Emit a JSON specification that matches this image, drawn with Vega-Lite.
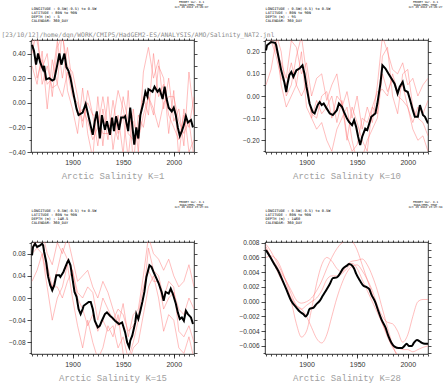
{
"$schema":"https://vega.github.io/schema/vega-lite/v6.json",
"padding":0,
"bounds":"flush",
"columns":2,
"spacing":{"row":90,"column":71},
"config":{"view":{"stroke":"#000","strokeWidth":0.8},"font":"Liberation Sans","axis":{"grid":false,"domain":false,"tickColor":"#000","tickWidth":0.7,"labelFont":"Liberation Sans","labelColor":"#333","titleFont":"DejaVu Sans Mono","titleFontWeight":"normal","titleColor":"#000"}},
"datasets":{"d":[
{"p":1,"m":"k","t":1860,"v":0.47},{"p":1,"m":"k","t":1862,"v":0.42},{"p":1,"m":"k","t":1864,"v":0.31},{"p":1,"m":"k","t":1866,"v":0.40},{"p":1,"m":"k","t":1868,"v":0.33},{"p":1,"m":"k","t":1871,"v":0.27},{"p":1,"m":"k","t":1872,"v":0.30},{"p":1,"m":"k","t":1874,"v":0.19},{"p":1,"m":"k","t":1877,"v":0.20},{"p":1,"m":"k","t":1880,"v":0.18},{"p":1,"m":"k","t":1882,"v":0.19},{"p":1,"m":"k","t":1885,"v":0.31},{"p":1,"m":"k","t":1887,"v":0.40},{"p":1,"m":"k","t":1889,"v":0.31},{"p":1,"m":"k","t":1892,"v":0.40},{"p":1,"m":"k","t":1894,"v":0.29},{"p":1,"m":"k","t":1896,"v":0.26},{"p":1,"m":"k","t":1898,"v":0.20},{"p":1,"m":"k","t":1901,"v":0.07},{"p":1,"m":"k","t":1904,"v":-0.05},{"p":1,"m":"k","t":1906,"v":-0.10},{"p":1,"m":"k","t":1910,"v":-0.08},{"p":1,"m":"k","t":1913,"v":-0.01},{"p":1,"m":"k","t":1915,"v":-0.08},{"p":1,"m":"k","t":1918,"v":-0.19},{"p":1,"m":"k","t":1920,"v":-0.26},{"p":1,"m":"k","t":1922,"v":-0.15},{"p":1,"m":"k","t":1924,"v":-0.07},{"p":1,"m":"k","t":1927,"v":-0.29},{"p":1,"m":"k","t":1929,"v":-0.10},{"p":1,"m":"k","t":1932,"v":-0.22},{"p":1,"m":"k","t":1934,"v":-0.15},{"p":1,"m":"k","t":1937,"v":-0.26},{"p":1,"m":"k","t":1939,"v":-0.12},{"p":1,"m":"k","t":1941,"v":-0.23},{"p":1,"m":"k","t":1943,"v":-0.11},{"p":1,"m":"k","t":1946,"v":-0.22},{"p":1,"m":"k","t":1948,"v":-0.12},{"p":1,"m":"k","t":1951,"v":-0.12},{"p":1,"m":"k","t":1952,"v":-0.11},{"p":1,"m":"k","t":1955,"v":-0.23},{"p":1,"m":"k","t":1957,"v":-0.04},{"p":1,"m":"k","t":1959,"v":-0.18},{"p":1,"m":"k","t":1961,"v":-0.34},{"p":1,"m":"k","t":1963,"v":-0.20},{"p":1,"m":"k","t":1965,"v":-0.29},{"p":1,"m":"k","t":1967,"v":-0.10},{"p":1,"m":"k","t":1970,"v":0.00},{"p":1,"m":"k","t":1972,"v":0.09},{"p":1,"m":"k","t":1974,"v":0.05},{"p":1,"m":"k","t":1975,"v":0.11},{"p":1,"m":"k","t":1979,"v":0.09},{"p":1,"m":"k","t":1981,"v":0.13},{"p":1,"m":"k","t":1984,"v":0.09},{"p":1,"m":"k","t":1986,"v":0.11},{"p":1,"m":"k","t":1989,"v":0.03},{"p":1,"m":"k","t":1991,"v":0.13},{"p":1,"m":"k","t":1993,"v":0.03},{"p":1,"m":"k","t":1995,"v":-0.04},{"p":1,"m":"k","t":1998,"v":-0.07},{"p":1,"m":"k","t":2000,"v":-0.04},{"p":1,"m":"k","t":2002,"v":-0.10},{"p":1,"m":"k","t":2004,"v":-0.20},{"p":1,"m":"k","t":2006,"v":-0.27},{"p":1,"m":"k","t":2008,"v":-0.23},{"p":1,"m":"k","t":2010,"v":-0.18},{"p":1,"m":"k","t":2012,"v":-0.11},{"p":1,"m":"k","t":2014,"v":-0.16},{"p":1,"m":"k","t":2017,"v":-0.14},{"p":1,"m":"k","t":2019,"v":-0.20},
{"p":1,"m":"a","t":1860,"v":0.62},{"p":1,"m":"a","t":1865,"v":0.50},{"p":1,"m":"a","t":1870,"v":0.28},{"p":1,"m":"a","t":1875,"v":0.40},{"p":1,"m":"a","t":1880,"v":0.05},{"p":1,"m":"a","t":1885,"v":0.45},{"p":1,"m":"a","t":1890,"v":0.55},{"p":1,"m":"a","t":1895,"v":0.30},{"p":1,"m":"a","t":1900,"v":0.25},{"p":1,"m":"a","t":1905,"v":0.05},{"p":1,"m":"a","t":1910,"v":-0.20},{"p":1,"m":"a","t":1915,"v":0.10},{"p":1,"m":"a","t":1920,"v":-0.10},{"p":1,"m":"a","t":1925,"v":-0.35},{"p":1,"m":"a","t":1930,"v":-0.05},{"p":1,"m":"a","t":1935,"v":-0.30},{"p":1,"m":"a","t":1940,"v":0.02},{"p":1,"m":"a","t":1945,"v":-0.25},{"p":1,"m":"a","t":1950,"v":-0.10},{"p":1,"m":"a","t":1955,"v":-0.45},{"p":1,"m":"a","t":1960,"v":-0.05},{"p":1,"m":"a","t":1965,"v":-0.40},{"p":1,"m":"a","t":1970,"v":0.25},{"p":1,"m":"a","t":1975,"v":0.45},{"p":1,"m":"a","t":1980,"v":0.20},{"p":1,"m":"a","t":1985,"v":0.35},{"p":1,"m":"a","t":1990,"v":-0.05},{"p":1,"m":"a","t":1995,"v":0.20},{"p":1,"m":"a","t":2000,"v":-0.15},{"p":1,"m":"a","t":2005,"v":-0.05},{"p":1,"m":"a","t":2010,"v":-0.35},{"p":1,"m":"a","t":2015,"v":0.25},{"p":1,"m":"a","t":2020,"v":-0.10},
{"p":1,"m":"b","t":1860,"v":0.30},{"p":1,"m":"b","t":1865,"v":0.15},{"p":1,"m":"b","t":1870,"v":0.42},{"p":1,"m":"b","t":1875,"v":-0.05},{"p":1,"m":"b","t":1880,"v":0.35},{"p":1,"m":"b","t":1885,"v":0.15},{"p":1,"m":"b","t":1890,"v":0.60},{"p":1,"m":"b","t":1895,"v":0.10},{"p":1,"m":"b","t":1900,"v":-0.05},{"p":1,"m":"b","t":1905,"v":-0.25},{"p":1,"m":"b","t":1910,"v":0.12},{"p":1,"m":"b","t":1915,"v":-0.25},{"p":1,"m":"b","t":1920,"v":-0.45},{"p":1,"m":"b","t":1925,"v":0.05},{"p":1,"m":"b","t":1930,"v":-0.35},{"p":1,"m":"b","t":1935,"v":0.05},{"p":1,"m":"b","t":1940,"v":-0.38},{"p":1,"m":"b","t":1945,"v":-0.10},{"p":1,"m":"b","t":1950,"v":-0.42},{"p":1,"m":"b","t":1955,"v":0.10},{"p":1,"m":"b","t":1960,"v":-0.50},{"p":1,"m":"b","t":1965,"v":-0.10},{"p":1,"m":"b","t":1970,"v":-0.20},{"p":1,"m":"b","t":1975,"v":0.05},{"p":1,"m":"b","t":1980,"v":-0.10},{"p":1,"m":"b","t":1985,"v":0.30},{"p":1,"m":"b","t":1990,"v":0.20},{"p":1,"m":"b","t":1995,"v":-0.25},{"p":1,"m":"b","t":2000,"v":0.10},{"p":1,"m":"b","t":2005,"v":-0.45},{"p":1,"m":"b","t":2010,"v":-0.05},{"p":1,"m":"b","t":2015,"v":-0.40},{"p":1,"m":"b","t":2020,"v":-0.30},
{"p":1,"m":"c","t":1860,"v":0.55},{"p":1,"m":"c","t":1865,"v":0.20},{"p":1,"m":"c","t":1870,"v":0.35},{"p":1,"m":"c","t":1875,"v":0.15},{"p":1,"m":"c","t":1880,"v":0.20},{"p":1,"m":"c","t":1885,"v":0.50},{"p":1,"m":"c","t":1890,"v":0.20},{"p":1,"m":"c","t":1895,"v":0.45},{"p":1,"m":"c","t":1900,"v":0.15},{"p":1,"m":"c","t":1905,"v":-0.10},{"p":1,"m":"c","t":1910,"v":-0.05},{"p":1,"m":"c","t":1915,"v":-0.15},{"p":1,"m":"c","t":1920,"v":-0.30},{"p":1,"m":"c","t":1925,"v":-0.20},{"p":1,"m":"c","t":1930,"v":0.05},{"p":1,"m":"c","t":1935,"v":-0.20},{"p":1,"m":"c","t":1940,"v":-0.15},{"p":1,"m":"c","t":1945,"v":0.10},{"p":1,"m":"c","t":1950,"v":-0.05},{"p":1,"m":"c","t":1955,"v":-0.25},{"p":1,"m":"c","t":1960,"v":-0.30},{"p":1,"m":"c","t":1965,"v":-0.20},{"p":1,"m":"c","t":1970,"v":0.05},{"p":1,"m":"c","t":1975,"v":-0.10},{"p":1,"m":"c","t":1980,"v":0.40},{"p":1,"m":"c","t":1985,"v":0.05},{"p":1,"m":"c","t":1990,"v":0.15},{"p":1,"m":"c","t":1995,"v":-0.10},{"p":1,"m":"c","t":2000,"v":-0.20},{"p":1,"m":"c","t":2005,"v":-0.30},{"p":1,"m":"c","t":2010,"v":-0.10},{"p":1,"m":"c","t":2015,"v":-0.20},{"p":1,"m":"c","t":2020,"v":0.05},
{"p":1,"m":"d","t":1860,"v":0.40},{"p":1,"m":"d","t":1865,"v":0.60},{"p":1,"m":"d","t":1870,"v":0.15},{"p":1,"m":"d","t":1875,"v":0.30},{"p":1,"m":"d","t":1880,"v":0.12},{"p":1,"m":"d","t":1885,"v":0.15},{"p":1,"m":"d","t":1890,"v":0.05},{"p":1,"m":"d","t":1895,"v":0.25},{"p":1,"m":"d","t":1900,"v":0.05},{"p":1,"m":"d","t":1905,"v":0.00},{"p":1,"m":"d","t":1910,"v":-0.15},{"p":1,"m":"d","t":1915,"v":0.00},{"p":1,"m":"d","t":1920,"v":-0.10},{"p":1,"m":"d","t":1925,"v":-0.10},{"p":1,"m":"d","t":1930,"v":-0.25},{"p":1,"m":"d","t":1935,"v":-0.25},{"p":1,"m":"d","t":1940,"v":-0.15},{"p":1,"m":"d","t":1945,"v":-0.30},{"p":1,"m":"d","t":1950,"v":0.05},{"p":1,"m":"d","t":1955,"v":-0.15},{"p":1,"m":"d","t":1960,"v":-0.15},{"p":1,"m":"d","t":1965,"v":-0.30},{"p":1,"m":"d","t":1970,"v":-0.10},{"p":1,"m":"d","t":1975,"v":0.05},{"p":1,"m":"d","t":1980,"v":-0.05},{"p":1,"m":"d","t":1985,"v":-0.20},{"p":1,"m":"d","t":1990,"v":0.00},{"p":1,"m":"d","t":1995,"v":0.05},{"p":1,"m":"d","t":2000,"v":0.05},{"p":1,"m":"d","t":2005,"v":-0.15},{"p":1,"m":"d","t":2010,"v":-0.25},{"p":1,"m":"d","t":2015,"v":-0.15},{"p":1,"m":"d","t":2020,"v":-0.45},
{"p":2,"m":"k","t":1860,"v":0.206},{"p":2,"m":"k","t":1861,"v":0.229},{"p":2,"m":"k","t":1865,"v":0.244},{"p":2,"m":"k","t":1869,"v":0.24},{"p":2,"m":"k","t":1870,"v":0.23},{"p":2,"m":"k","t":1872,"v":0.184},{"p":2,"m":"k","t":1875,"v":0.116},{"p":2,"m":"k","t":1878,"v":0.064},{"p":2,"m":"k","t":1880,"v":0.018},{"p":2,"m":"k","t":1881,"v":0.049},{"p":2,"m":"k","t":1883,"v":0.094},{"p":2,"m":"k","t":1885,"v":0.109},{"p":2,"m":"k","t":1887,"v":0.086},{"p":2,"m":"k","t":1890,"v":0.116},{"p":2,"m":"k","t":1893,"v":0.124},{"p":2,"m":"k","t":1896,"v":0.139},{"p":2,"m":"k","t":1898,"v":0.101},{"p":2,"m":"k","t":1900,"v":0.041},{"p":2,"m":"k","t":1903,"v":-0.034},{"p":2,"m":"k","t":1906,"v":-0.072},{"p":2,"m":"k","t":1908,"v":-0.079},{"p":2,"m":"k","t":1911,"v":-0.041},{"p":2,"m":"k","t":1913,"v":-0.027},{"p":2,"m":"k","t":1915,"v":-0.041},{"p":2,"m":"k","t":1917,"v":-0.034},{"p":2,"m":"k","t":1920,"v":-0.057},{"p":2,"m":"k","t":1923,"v":-0.079},{"p":2,"m":"k","t":1926,"v":-0.086},{"p":2,"m":"k","t":1930,"v":-0.064},{"p":2,"m":"k","t":1932,"v":-0.034},{"p":2,"m":"k","t":1935,"v":-0.049},{"p":2,"m":"k","t":1937,"v":-0.072},{"p":2,"m":"k","t":1940,"v":-0.102},{"p":2,"m":"k","t":1942,"v":-0.117},{"p":2,"m":"k","t":1945,"v":-0.132},{"p":2,"m":"k","t":1947,"v":-0.109},{"p":2,"m":"k","t":1949,"v":-0.139},{"p":2,"m":"k","t":1951,"v":-0.184},{"p":2,"m":"k","t":1953,"v":-0.222},{"p":2,"m":"k","t":1955,"v":-0.184},{"p":2,"m":"k","t":1958,"v":-0.147},{"p":2,"m":"k","t":1960,"v":-0.154},{"p":2,"m":"k","t":1962,"v":-0.124},{"p":2,"m":"k","t":1964,"v":-0.094},{"p":2,"m":"k","t":1968,"v":-0.079},{"p":2,"m":"k","t":1970,"v":-0.034},{"p":2,"m":"k","t":1973,"v":0.056},{"p":2,"m":"k","t":1975,"v":0.139},{"p":2,"m":"k","t":1978,"v":0.124},{"p":2,"m":"k","t":1981,"v":0.101},{"p":2,"m":"k","t":1984,"v":0.078},{"p":2,"m":"k","t":1987,"v":0.056},{"p":2,"m":"k","t":1990,"v":0.011},{"p":2,"m":"k","t":1992,"v":0.041},{"p":2,"m":"k","t":1995,"v":0.064},{"p":2,"m":"k","t":1997,"v":0.026},{"p":2,"m":"k","t":2000,"v":0.018},{"p":2,"m":"k","t":2002,"v":-0.012},{"p":2,"m":"k","t":2005,"v":-0.064},{"p":2,"m":"k","t":2007,"v":-0.094},{"p":2,"m":"k","t":2010,"v":-0.094},{"p":2,"m":"k","t":2012,"v":-0.041},{"p":2,"m":"k","t":2015,"v":-0.086},{"p":2,"m":"k","t":2017,"v":-0.094},{"p":2,"m":"k","t":2020,"v":-0.124},
{"p":2,"m":"a","t":1860,"v":0.30},{"p":2,"m":"a","t":1865,"v":0.28},{"p":2,"m":"a","t":1870,"v":0.20},{"p":2,"m":"a","t":1875,"v":0.15},{"p":2,"m":"a","t":1880,"v":0.08},{"p":2,"m":"a","t":1885,"v":0.25},{"p":2,"m":"a","t":1890,"v":0.22},{"p":2,"m":"a","t":1895,"v":0.10},{"p":2,"m":"a","t":1900,"v":0.15},{"p":2,"m":"a","t":1905,"v":0.00},{"p":2,"m":"a","t":1910,"v":0.08},{"p":2,"m":"a","t":1915,"v":0.10},{"p":2,"m":"a","t":1920,"v":-0.02},{"p":2,"m":"a","t":1925,"v":0.05},{"p":2,"m":"a","t":1930,"v":0.10},{"p":2,"m":"a","t":1935,"v":-0.05},{"p":2,"m":"a","t":1940,"v":0.02},{"p":2,"m":"a","t":1945,"v":-0.10},{"p":2,"m":"a","t":1950,"v":0.00},{"p":2,"m":"a","t":1955,"v":-0.15},{"p":2,"m":"a","t":1960,"v":-0.05},{"p":2,"m":"a","t":1965,"v":-0.12},{"p":2,"m":"a","t":1970,"v":0.05},{"p":2,"m":"a","t":1975,"v":0.27},{"p":2,"m":"a","t":1980,"v":0.20},{"p":2,"m":"a","t":1985,"v":0.12},{"p":2,"m":"a","t":1990,"v":0.10},{"p":2,"m":"a","t":1995,"v":0.15},{"p":2,"m":"a","t":2000,"v":0.05},{"p":2,"m":"a","t":2005,"v":0.08},{"p":2,"m":"a","t":2010,"v":0.00},{"p":2,"m":"a","t":2015,"v":0.05},{"p":2,"m":"a","t":2020,"v":0.08},
{"p":2,"m":"b","t":1860,"v":0.05},{"p":2,"m":"b","t":1865,"v":0.12},{"p":2,"m":"b","t":1870,"v":0.25},{"p":2,"m":"b","t":1875,"v":0.05},{"p":2,"m":"b","t":1880,"v":-0.05},{"p":2,"m":"b","t":1885,"v":0.00},{"p":2,"m":"b","t":1890,"v":0.05},{"p":2,"m":"b","t":1895,"v":0.20},{"p":2,"m":"b","t":1900,"v":-0.05},{"p":2,"m":"b","t":1905,"v":-0.10},{"p":2,"m":"b","t":1910,"v":-0.15},{"p":2,"m":"b","t":1915,"v":-0.12},{"p":2,"m":"b","t":1920,"v":-0.20},{"p":2,"m":"b","t":1925,"v":-0.25},{"p":2,"m":"b","t":1930,"v":-0.15},{"p":2,"m":"b","t":1935,"v":-0.10},{"p":2,"m":"b","t":1940,"v":-0.05},{"p":2,"m":"b","t":1945,"v":-0.20},{"p":2,"m":"b","t":1950,"v":-0.30},{"p":2,"m":"b","t":1955,"v":-0.28},{"p":2,"m":"b","t":1960,"v":-0.20},{"p":2,"m":"b","t":1965,"v":-0.15},{"p":2,"m":"b","t":1970,"v":-0.10},{"p":2,"m":"b","t":1975,"v":0.10},{"p":2,"m":"b","t":1980,"v":0.02},{"p":2,"m":"b","t":1985,"v":0.08},{"p":2,"m":"b","t":1990,"v":0.00},{"p":2,"m":"b","t":1995,"v":-0.02},{"p":2,"m":"b","t":2000,"v":-0.05},{"p":2,"m":"b","t":2005,"v":-0.15},{"p":2,"m":"b","t":2010,"v":-0.20},{"p":2,"m":"b","t":2015,"v":-0.18},{"p":2,"m":"b","t":2020,"v":-0.25},
{"p":2,"m":"c","t":1860,"v":0.25},{"p":2,"m":"c","t":1865,"v":0.30},{"p":2,"m":"c","t":1870,"v":0.28},{"p":2,"m":"c","t":1875,"v":0.20},{"p":2,"m":"c","t":1880,"v":0.00},{"p":2,"m":"c","t":1885,"v":0.05},{"p":2,"m":"c","t":1890,"v":0.18},{"p":2,"m":"c","t":1895,"v":0.27},{"p":2,"m":"c","t":1900,"v":0.10},{"p":2,"m":"c","t":1905,"v":-0.10},{"p":2,"m":"c","t":1910,"v":-0.02},{"p":2,"m":"c","t":1915,"v":-0.08},{"p":2,"m":"c","t":1920,"v":-0.05},{"p":2,"m":"c","t":1925,"v":0.00},{"p":2,"m":"c","t":1930,"v":-0.12},{"p":2,"m":"c","t":1935,"v":-0.02},{"p":2,"m":"c","t":1940,"v":-0.18},{"p":2,"m":"c","t":1945,"v":-0.25},{"p":2,"m":"c","t":1950,"v":-0.22},{"p":2,"m":"c","t":1955,"v":-0.10},{"p":2,"m":"c","t":1960,"v":-0.12},{"p":2,"m":"c","t":1965,"v":-0.05},{"p":2,"m":"c","t":1970,"v":-0.08},{"p":2,"m":"c","t":1975,"v":0.18},{"p":2,"m":"c","t":1980,"v":0.22},{"p":2,"m":"c","t":1985,"v":0.00},{"p":2,"m":"c","t":1990,"v":-0.08},{"p":2,"m":"c","t":1995,"v":0.10},{"p":2,"m":"c","t":2000,"v":0.12},{"p":2,"m":"c","t":2005,"v":-0.05},{"p":2,"m":"c","t":2010,"v":-0.10},{"p":2,"m":"c","t":2015,"v":-0.12},{"p":2,"m":"c","t":2020,"v":-0.18},
{"p":2,"m":"d","t":1860,"v":0.22},{"p":2,"m":"d","t":1865,"v":0.25},{"p":2,"m":"d","t":1870,"v":0.18},{"p":2,"m":"d","t":1875,"v":0.08},{"p":2,"m":"d","t":1880,"v":0.05},{"p":2,"m":"d","t":1885,"v":0.15},{"p":2,"m":"d","t":1890,"v":0.05},{"p":2,"m":"d","t":1895,"v":0.00},{"p":2,"m":"d","t":1900,"v":0.05},{"p":2,"m":"d","t":1905,"v":-0.08},{"p":2,"m":"d","t":1910,"v":-0.10},{"p":2,"m":"d","t":1915,"v":0.00},{"p":2,"m":"d","t":1920,"v":0.02},{"p":2,"m":"d","t":1925,"v":-0.10},{"p":2,"m":"d","t":1930,"v":0.00},{"p":2,"m":"d","t":1935,"v":-0.03},{"p":2,"m":"d","t":1940,"v":-0.20},{"p":2,"m":"d","t":1945,"v":-0.05},{"p":2,"m":"d","t":1950,"v":-0.12},{"p":2,"m":"d","t":1955,"v":-0.20},{"p":2,"m":"d","t":1960,"v":-0.25},{"p":2,"m":"d","t":1965,"v":-0.05},{"p":2,"m":"d","t":1970,"v":0.02},{"p":2,"m":"d","t":1975,"v":0.03},{"p":2,"m":"d","t":1980,"v":0.00},{"p":2,"m":"d","t":1985,"v":0.10},{"p":2,"m":"d","t":1990,"v":0.02},{"p":2,"m":"d","t":1995,"v":0.05},{"p":2,"m":"d","t":2000,"v":-0.05},{"p":2,"m":"d","t":2005,"v":-0.12},{"p":2,"m":"d","t":2010,"v":-0.05},{"p":2,"m":"d","t":2015,"v":-0.08},{"p":2,"m":"d","t":2020,"v":-0.02},
{"p":3,"m":"k","t":1860,"v":0.077},{"p":3,"m":"k","t":1861,"v":0.092},{"p":3,"m":"k","t":1863,"v":0.098},{"p":3,"m":"k","t":1865,"v":0.092},{"p":3,"m":"k","t":1868,"v":0.095},{"p":3,"m":"k","t":1870,"v":0.098},{"p":3,"m":"k","t":1871,"v":0.095},{"p":3,"m":"k","t":1872,"v":0.083},{"p":3,"m":"k","t":1874,"v":0.065},{"p":3,"m":"k","t":1876,"v":0.038},{"p":3,"m":"k","t":1878,"v":0.023},{"p":3,"m":"k","t":1880,"v":0.014},{"p":3,"m":"k","t":1882,"v":0.023},{"p":3,"m":"k","t":1884,"v":0.041},{"p":3,"m":"k","t":1887,"v":0.041},{"p":3,"m":"k","t":1888,"v":0.038},{"p":3,"m":"k","t":1891,"v":0.047},{"p":3,"m":"k","t":1893,"v":0.056},{"p":3,"m":"k","t":1895,"v":0.065},{"p":3,"m":"k","t":1896,"v":0.068},{"p":3,"m":"k","t":1898,"v":0.059},{"p":3,"m":"k","t":1900,"v":0.035},{"p":3,"m":"k","t":1902,"v":0.011},{"p":3,"m":"k","t":1904,"v":0.002},{"p":3,"m":"k","t":1906,"v":-0.020},{"p":3,"m":"k","t":1908,"v":-0.029},{"p":3,"m":"k","t":1910,"v":-0.020},{"p":3,"m":"k","t":1911,"v":-0.014},{"p":3,"m":"k","t":1914,"v":-0.010},{"p":3,"m":"k","t":1916,"v":-0.007},{"p":3,"m":"k","t":1918,"v":-0.007},{"p":3,"m":"k","t":1920,"v":-0.020},{"p":3,"m":"k","t":1922,"v":-0.041},{"p":3,"m":"k","t":1925,"v":-0.053},{"p":3,"m":"k","t":1927,"v":-0.050},{"p":3,"m":"k","t":1929,"v":-0.041},{"p":3,"m":"k","t":1932,"v":-0.029},{"p":3,"m":"k","t":1934,"v":-0.026},{"p":3,"m":"k","t":1937,"v":-0.032},{"p":3,"m":"k","t":1939,"v":-0.035},{"p":3,"m":"k","t":1942,"v":-0.041},{"p":3,"m":"k","t":1944,"v":-0.044},{"p":3,"m":"k","t":1946,"v":-0.047},{"p":3,"m":"k","t":1949,"v":-0.044},{"p":3,"m":"k","t":1952,"v":-0.062},{"p":3,"m":"k","t":1954,"v":-0.080},{"p":3,"m":"k","t":1956,"v":-0.089},{"p":3,"m":"k","t":1957,"v":-0.077},{"p":3,"m":"k","t":1959,"v":-0.068},{"p":3,"m":"k","t":1962,"v":-0.044},{"p":3,"m":"k","t":1963,"v":-0.029},{"p":3,"m":"k","t":1965,"v":-0.038},{"p":3,"m":"k","t":1967,"v":-0.023},{"p":3,"m":"k","t":1969,"v":-0.007},{"p":3,"m":"k","t":1971,"v":0.011},{"p":3,"m":"k","t":1973,"v":0.038},{"p":3,"m":"k","t":1976,"v":0.059},{"p":3,"m":"k","t":1978,"v":0.056},{"p":3,"m":"k","t":1980,"v":0.047},{"p":3,"m":"k","t":1983,"v":0.035},{"p":3,"m":"k","t":1985,"v":0.027},{"p":3,"m":"k","t":1988,"v":0.011},{"p":3,"m":"k","t":1990,"v":-0.005},{"p":3,"m":"k","t":1992,"v":0.011},{"p":3,"m":"k","t":1995,"v":0.008},{"p":3,"m":"k","t":1997,"v":0.017},{"p":3,"m":"k","t":1999,"v":0.008},{"p":3,"m":"k","t":2002,"v":-0.010},{"p":3,"m":"k","t":2004,"v":-0.026},{"p":3,"m":"k","t":2006,"v":-0.038},{"p":3,"m":"k","t":2008,"v":-0.035},{"p":3,"m":"k","t":2010,"v":-0.041},{"p":3,"m":"k","t":2012,"v":-0.023},{"p":3,"m":"k","t":2014,"v":-0.029},{"p":3,"m":"k","t":2017,"v":-0.035},{"p":3,"m":"k","t":2019,"v":-0.047},
{"p":3,"m":"a","t":1860,"v":0.11},{"p":3,"m":"a","t":1865,"v":0.10},{"p":3,"m":"a","t":1870,"v":0.12},{"p":3,"m":"a","t":1875,"v":0.08},{"p":3,"m":"a","t":1880,"v":0.06},{"p":3,"m":"a","t":1885,"v":0.10},{"p":3,"m":"a","t":1890,"v":0.08},{"p":3,"m":"a","t":1895,"v":0.11},{"p":3,"m":"a","t":1900,"v":0.07},{"p":3,"m":"a","t":1905,"v":0.03},{"p":3,"m":"a","t":1910,"v":0.04},{"p":3,"m":"a","t":1915,"v":0.05},{"p":3,"m":"a","t":1920,"v":0.02},{"p":3,"m":"a","t":1925,"v":0.00},{"p":3,"m":"a","t":1930,"v":0.03},{"p":3,"m":"a","t":1935,"v":0.01},{"p":3,"m":"a","t":1940,"v":-0.02},{"p":3,"m":"a","t":1945,"v":-0.05},{"p":3,"m":"a","t":1950,"v":-0.01},{"p":3,"m":"a","t":1955,"v":-0.07},{"p":3,"m":"a","t":1960,"v":-0.03},{"p":3,"m":"a","t":1965,"v":-0.02},{"p":3,"m":"a","t":1970,"v":0.04},{"p":3,"m":"a","t":1975,"v":0.11},{"p":3,"m":"a","t":1980,"v":0.08},{"p":3,"m":"a","t":1985,"v":0.07},{"p":3,"m":"a","t":1990,"v":0.05},{"p":3,"m":"a","t":1995,"v":0.07},{"p":3,"m":"a","t":2000,"v":0.04},{"p":3,"m":"a","t":2005,"v":0.02},{"p":3,"m":"a","t":2010,"v":0.03},{"p":3,"m":"a","t":2015,"v":0.06},{"p":3,"m":"a","t":2020,"v":0.02},
{"p":3,"m":"b","t":1860,"v":0.03},{"p":3,"m":"b","t":1865,"v":0.05},{"p":3,"m":"b","t":1870,"v":0.08},{"p":3,"m":"b","t":1875,"v":0.02},{"p":3,"m":"b","t":1880,"v":-0.04},{"p":3,"m":"b","t":1885,"v":0.00},{"p":3,"m":"b","t":1890,"v":0.02},{"p":3,"m":"b","t":1895,"v":0.06},{"p":3,"m":"b","t":1900,"v":0.00},{"p":3,"m":"b","t":1905,"v":-0.05},{"p":3,"m":"b","t":1910,"v":-0.09},{"p":3,"m":"b","t":1915,"v":-0.04},{"p":3,"m":"b","t":1920,"v":-0.08},{"p":3,"m":"b","t":1925,"v":-0.11},{"p":3,"m":"b","t":1930,"v":-0.09},{"p":3,"m":"b","t":1935,"v":-0.05},{"p":3,"m":"b","t":1940,"v":-0.07},{"p":3,"m":"b","t":1945,"v":-0.03},{"p":3,"m":"b","t":1950,"v":-0.10},{"p":3,"m":"b","t":1955,"v":-0.12},{"p":3,"m":"b","t":1960,"v":-0.09},{"p":3,"m":"b","t":1965,"v":-0.08},{"p":3,"m":"b","t":1970,"v":-0.03},{"p":3,"m":"b","t":1975,"v":0.02},{"p":3,"m":"b","t":1980,"v":0.04},{"p":3,"m":"b","t":1985,"v":0.00},{"p":3,"m":"b","t":1990,"v":-0.06},{"p":3,"m":"b","t":1995,"v":-0.03},{"p":3,"m":"b","t":2000,"v":-0.04},{"p":3,"m":"b","t":2005,"v":-0.09},{"p":3,"m":"b","t":2010,"v":-0.10},{"p":3,"m":"b","t":2015,"v":-0.07},{"p":3,"m":"b","t":2020,"v":-0.11},
{"p":3,"m":"c","t":1860,"v":0.09},{"p":3,"m":"c","t":1865,"v":0.11},{"p":3,"m":"c","t":1870,"v":0.10},{"p":3,"m":"c","t":1875,"v":0.06},{"p":3,"m":"c","t":1880,"v":0.02},{"p":3,"m":"c","t":1885,"v":0.05},{"p":3,"m":"c","t":1890,"v":0.09},{"p":3,"m":"c","t":1895,"v":0.07},{"p":3,"m":"c","t":1900,"v":0.05},{"p":3,"m":"c","t":1905,"v":0.00},{"p":3,"m":"c","t":1910,"v":-0.02},{"p":3,"m":"c","t":1915,"v":-0.05},{"p":3,"m":"c","t":1920,"v":-0.03},{"p":3,"m":"c","t":1925,"v":-0.06},{"p":3,"m":"c","t":1930,"v":-0.04},{"p":3,"m":"c","t":1935,"v":-0.06},{"p":3,"m":"c","t":1940,"v":-0.05},{"p":3,"m":"c","t":1945,"v":-0.09},{"p":3,"m":"c","t":1950,"v":-0.07},{"p":3,"m":"c","t":1955,"v":-0.11},{"p":3,"m":"c","t":1960,"v":-0.08},{"p":3,"m":"c","t":1965,"v":-0.04},{"p":3,"m":"c","t":1970,"v":0.00},{"p":3,"m":"c","t":1975,"v":0.09},{"p":3,"m":"c","t":1980,"v":0.05},{"p":3,"m":"c","t":1985,"v":0.04},{"p":3,"m":"c","t":1990,"v":0.00},{"p":3,"m":"c","t":1995,"v":0.03},{"p":3,"m":"c","t":2000,"v":0.02},{"p":3,"m":"c","t":2005,"v":-0.06},{"p":3,"m":"c","t":2010,"v":-0.07},{"p":3,"m":"c","t":2015,"v":-0.05},{"p":3,"m":"c","t":2020,"v":-0.08},
{"p":3,"m":"d","t":1860,"v":0.08},{"p":3,"m":"d","t":1865,"v":0.09},{"p":3,"m":"d","t":1870,"v":0.08},{"p":3,"m":"d","t":1875,"v":0.04},{"p":3,"m":"d","t":1880,"v":0.02},{"p":3,"m":"d","t":1885,"v":0.02},{"p":3,"m":"d","t":1890,"v":0.00},{"p":3,"m":"d","t":1895,"v":0.03},{"p":3,"m":"d","t":1900,"v":0.05},{"p":3,"m":"d","t":1905,"v":0.01},{"p":3,"m":"d","t":1910,"v":0.00},{"p":3,"m":"d","t":1915,"v":0.02},{"p":3,"m":"d","t":1920,"v":0.01},{"p":3,"m":"d","t":1925,"v":-0.04},{"p":3,"m":"d","t":1930,"v":0.00},{"p":3,"m":"d","t":1935,"v":-0.02},{"p":3,"m":"d","t":1940,"v":-0.04},{"p":3,"m":"d","t":1945,"v":-0.02},{"p":3,"m":"d","t":1950,"v":-0.03},{"p":3,"m":"d","t":1955,"v":-0.06},{"p":3,"m":"d","t":1960,"v":-0.05},{"p":3,"m":"d","t":1965,"v":-0.03},{"p":3,"m":"d","t":1970,"v":0.02},{"p":3,"m":"d","t":1975,"v":0.05},{"p":3,"m":"d","t":1980,"v":0.03},{"p":3,"m":"d","t":1985,"v":0.03},{"p":3,"m":"d","t":1990,"v":-0.02},{"p":3,"m":"d","t":1995,"v":0.00},{"p":3,"m":"d","t":2000,"v":0.01},{"p":3,"m":"d","t":2005,"v":-0.02},{"p":3,"m":"d","t":2010,"v":-0.03},{"p":3,"m":"d","t":2015,"v":0.00},{"p":3,"m":"d","t":2020,"v":-0.02},
{"p":4,"m":"k","t":1860,"v":0.0070},{"p":4,"m":"k","t":1864,"v":0.0061},{"p":4,"m":"k","t":1869,"v":0.0049},{"p":4,"m":"k","t":1872,"v":0.0042},{"p":4,"m":"k","t":1875,"v":0.0033},{"p":4,"m":"k","t":1880,"v":0.0017},{"p":4,"m":"k","t":1885,"v":0.0001},{"p":4,"m":"k","t":1890,"v":-0.0008},{"p":4,"m":"k","t":1893,"v":-0.0013},{"p":4,"m":"k","t":1897,"v":-0.0017},{"p":4,"m":"k","t":1899,"v":-0.0020},{"p":4,"m":"k","t":1901,"v":-0.0017},{"p":4,"m":"k","t":1903,"v":-0.0010},{"p":4,"m":"k","t":1907,"v":-0.0008},{"p":4,"m":"k","t":1910,"v":-0.0003},{"p":4,"m":"k","t":1913,"v":0.0001},{"p":4,"m":"k","t":1916,"v":0.0008},{"p":4,"m":"k","t":1920,"v":0.0017},{"p":4,"m":"k","t":1923,"v":0.0024},{"p":4,"m":"k","t":1926,"v":0.0032},{"p":4,"m":"k","t":1930,"v":0.0033},{"p":4,"m":"k","t":1933,"v":0.0038},{"p":4,"m":"k","t":1936,"v":0.0045},{"p":4,"m":"k","t":1940,"v":0.0049},{"p":4,"m":"k","t":1942,"v":0.0051},{"p":4,"m":"k","t":1945,"v":0.0049},{"p":4,"m":"k","t":1947,"v":0.0045},{"p":4,"m":"k","t":1949,"v":0.0038},{"p":4,"m":"k","t":1953,"v":0.0028},{"p":4,"m":"k","t":1956,"v":0.0022},{"p":4,"m":"k","t":1959,"v":0.0020},{"p":4,"m":"k","t":1962,"v":0.0017},{"p":4,"m":"k","t":1964,"v":0.0010},{"p":4,"m":"k","t":1968,"v":-0.0001},{"p":4,"m":"k","t":1971,"v":-0.0013},{"p":4,"m":"k","t":1974,"v":-0.0024},{"p":4,"m":"k","t":1978,"v":-0.0035},{"p":4,"m":"k","t":1981,"v":-0.0047},{"p":4,"m":"k","t":1984,"v":-0.0056},{"p":4,"m":"k","t":1987,"v":-0.0061},{"p":4,"m":"k","t":1991,"v":-0.0063},{"p":4,"m":"k","t":1994,"v":-0.0063},{"p":4,"m":"k","t":1996,"v":-0.0061},{"p":4,"m":"k","t":1999,"v":-0.0057},{"p":4,"m":"k","t":2001,"v":-0.0060},{"p":4,"m":"k","t":2004,"v":-0.0060},{"p":4,"m":"k","t":2006,"v":-0.0056},{"p":4,"m":"k","t":2009,"v":-0.0052},{"p":4,"m":"k","t":2012,"v":-0.0054},{"p":4,"m":"k","t":2014,"v":-0.0056},{"p":4,"m":"k","t":2017,"v":-0.0057},{"p":4,"m":"k","t":2020,"v":-0.0057},
{"p":4,"m":"a","t":1860,"v":0.0078},{"p":4,"m":"a","t":1865,"v":0.0068},{"p":4,"m":"a","t":1870,"v":0.0055},{"p":4,"m":"a","t":1875,"v":0.0042},{"p":4,"m":"a","t":1880,"v":0.0028},{"p":4,"m":"a","t":1885,"v":0.0015},{"p":4,"m":"a","t":1890,"v":0.0002},{"p":4,"m":"a","t":1895,"v":-0.0002},{"p":4,"m":"a","t":1900,"v":0.0000},{"p":4,"m":"a","t":1905,"v":0.0005},{"p":4,"m":"a","t":1910,"v":0.0015},{"p":4,"m":"a","t":1915,"v":0.0028},{"p":4,"m":"a","t":1920,"v":0.0045},{"p":4,"m":"a","t":1925,"v":0.0060},{"p":4,"m":"a","t":1930,"v":0.0072},{"p":4,"m":"a","t":1935,"v":0.0080},{"p":4,"m":"a","t":1940,"v":0.0085},{"p":4,"m":"a","t":1945,"v":0.0082},{"p":4,"m":"a","t":1950,"v":0.0070},{"p":4,"m":"a","t":1955,"v":0.0050},{"p":4,"m":"a","t":1960,"v":0.0030},{"p":4,"m":"a","t":1965,"v":0.0010},{"p":4,"m":"a","t":1970,"v":-0.0010},{"p":4,"m":"a","t":1975,"v":-0.0030},{"p":4,"m":"a","t":1980,"v":-0.0048},{"p":4,"m":"a","t":1985,"v":-0.0062},{"p":4,"m":"a","t":1990,"v":-0.0072},{"p":4,"m":"a","t":1995,"v":-0.0080},{"p":4,"m":"a","t":2000,"v":-0.0085},{"p":4,"m":"a","t":2005,"v":-0.0085},{"p":4,"m":"a","t":2010,"v":-0.0085},{"p":4,"m":"a","t":2015,"v":-0.0085},{"p":4,"m":"a","t":2020,"v":-0.0085},
{"p":4,"m":"b","t":1860,"v":0.0060},{"p":4,"m":"b","t":1865,"v":0.0062},{"p":4,"m":"b","t":1870,"v":0.0058},{"p":4,"m":"b","t":1875,"v":0.0045},{"p":4,"m":"b","t":1880,"v":0.0025},{"p":4,"m":"b","t":1885,"v":0.0000},{"p":4,"m":"b","t":1890,"v":-0.0030},{"p":4,"m":"b","t":1895,"v":-0.0048},{"p":4,"m":"b","t":1900,"v":-0.0040},{"p":4,"m":"b","t":1905,"v":-0.0010},{"p":4,"m":"b","t":1910,"v":0.0025},{"p":4,"m":"b","t":1915,"v":0.0050},{"p":4,"m":"b","t":1920,"v":0.0060},{"p":4,"m":"b","t":1925,"v":0.0055},{"p":4,"m":"b","t":1930,"v":0.0045},{"p":4,"m":"b","t":1935,"v":0.0040},{"p":4,"m":"b","t":1940,"v":0.0050},{"p":4,"m":"b","t":1945,"v":0.0055},{"p":4,"m":"b","t":1950,"v":0.0056},{"p":4,"m":"b","t":1955,"v":0.0058},{"p":4,"m":"b","t":1960,"v":0.0050},{"p":4,"m":"b","t":1965,"v":0.0035},{"p":4,"m":"b","t":1970,"v":0.0015},{"p":4,"m":"b","t":1975,"v":-0.0010},{"p":4,"m":"b","t":1980,"v":-0.0035},{"p":4,"m":"b","t":1985,"v":-0.0058},{"p":4,"m":"b","t":1990,"v":-0.0075},{"p":4,"m":"b","t":1995,"v":-0.0080},{"p":4,"m":"b","t":2000,"v":-0.0085},{"p":4,"m":"b","t":2005,"v":-0.0085},{"p":4,"m":"b","t":2010,"v":-0.0085},{"p":4,"m":"b","t":2015,"v":-0.0085},{"p":4,"m":"b","t":2020,"v":-0.0085},
{"p":4,"m":"c","t":1860,"v":0.0072},{"p":4,"m":"c","t":1865,"v":0.0060},{"p":4,"m":"c","t":1870,"v":0.0045},{"p":4,"m":"c","t":1875,"v":0.0030},{"p":4,"m":"c","t":1880,"v":0.0018},{"p":4,"m":"c","t":1885,"v":0.0005},{"p":4,"m":"c","t":1890,"v":-0.0005},{"p":4,"m":"c","t":1895,"v":-0.0010},{"p":4,"m":"c","t":1900,"v":-0.0020},{"p":4,"m":"c","t":1905,"v":-0.0035},{"p":4,"m":"c","t":1910,"v":-0.0050},{"p":4,"m":"c","t":1915,"v":-0.0056},{"p":4,"m":"c","t":1920,"v":-0.0045},{"p":4,"m":"c","t":1925,"v":-0.0020},{"p":4,"m":"c","t":1930,"v":0.0005},{"p":4,"m":"c","t":1935,"v":0.0025},{"p":4,"m":"c","t":1940,"v":0.0040},{"p":4,"m":"c","t":1945,"v":0.0048},{"p":4,"m":"c","t":1950,"v":0.0050},{"p":4,"m":"c","t":1955,"v":0.0042},{"p":4,"m":"c","t":1960,"v":0.0030},{"p":4,"m":"c","t":1965,"v":0.0015},{"p":4,"m":"c","t":1970,"v":-0.0005},{"p":4,"m":"c","t":1975,"v":-0.0020},{"p":4,"m":"c","t":1980,"v":-0.0028},{"p":4,"m":"c","t":1985,"v":-0.0030},{"p":4,"m":"c","t":1990,"v":-0.0040},{"p":4,"m":"c","t":1995,"v":-0.0055},{"p":4,"m":"c","t":2000,"v":-0.0045},{"p":4,"m":"c","t":2005,"v":-0.0020},{"p":4,"m":"c","t":2010,"v":0.0000},{"p":4,"m":"c","t":2015,"v":0.0003},{"p":4,"m":"c","t":2020,"v":0.0003},
{"p":4,"m":"d","t":1860,"v":0.0075},{"p":4,"m":"d","t":1865,"v":0.0060},{"p":4,"m":"d","t":1870,"v":0.0050},{"p":4,"m":"d","t":1875,"v":0.0038},{"p":4,"m":"d","t":1880,"v":0.0028},{"p":4,"m":"d","t":1885,"v":0.0010},{"p":4,"m":"d","t":1890,"v":-0.0005},{"p":4,"m":"d","t":1895,"v":-0.0010},{"p":4,"m":"d","t":1900,"v":-0.0005},{"p":4,"m":"d","t":1905,"v":0.0000},{"p":4,"m":"d","t":1910,"v":0.0005},{"p":4,"m":"d","t":1915,"v":0.0015},{"p":4,"m":"d","t":1920,"v":0.0030},{"p":4,"m":"d","t":1925,"v":0.0035},{"p":4,"m":"d","t":1930,"v":0.0035},{"p":4,"m":"d","t":1935,"v":0.0038},{"p":4,"m":"d","t":1940,"v":0.0045},{"p":4,"m":"d","t":1945,"v":0.0052},{"p":4,"m":"d","t":1950,"v":0.0045},{"p":4,"m":"d","t":1955,"v":0.0030},{"p":4,"m":"d","t":1960,"v":0.0015},{"p":4,"m":"d","t":1965,"v":0.0000},{"p":4,"m":"d","t":1970,"v":-0.0015},{"p":4,"m":"d","t":1975,"v":-0.0030},{"p":4,"m":"d","t":1980,"v":-0.0045},{"p":4,"m":"d","t":1985,"v":-0.0060},{"p":4,"m":"d","t":1990,"v":-0.0062},{"p":4,"m":"d","t":1995,"v":-0.0065},{"p":4,"m":"d","t":2000,"v":-0.0065},{"p":4,"m":"d","t":2005,"v":-0.0068},{"p":4,"m":"d","t":2010,"v":-0.0065},{"p":4,"m":"d","t":2015,"v":-0.0062},{"p":4,"m":"d","t":2020,"v":-0.0060}
]},
"concat":[
{"width":163,"height":112,"resolve":{"axis":{"x":"independent","y":"independent"}},"layer":[
{"data":{"name":"d"},"transform":[{"filter":"datum.p==1 && datum.m!='k'"}],"mark":{"type":"line","stroke":"#ff7a7a","strokeWidth":0.7,"opacity":0.7,"clip":true},
"encoding":{"x":{"field":"t","type":"quantitative","scale":{"domain":[1859,2020],"nice":false,"zero":false},"axis":{"orient":"bottom","values":[1900,1950,2000],"format":"d","tickSize":4,"labelFontSize":7,"labelPadding":2,"title":"Arctic Salinity K=1","titleFont":"Liberation Mono","titleFontSize":9,"titleColor":"#a0a0a0","titlePadding":6}},
"y":{"field":"v","type":"quantitative","scale":{"domain":[-0.4,0.51],"nice":false,"zero":false},"axis":{"orient":"left","values":[-0.4,-0.2,0,0.2,0.4],"format":".2f","tickSize":4,"labelFontSize":6.5,"labelPadding":2,"title":null}},"detail":{"field":"m"}}},
{"data":{"name":"d"},"transform":[{"filter":"datum.p==1 && datum.m=='k'"}],"mark":{"type":"line","stroke":"#000","strokeWidth":2,"clip":true},
"encoding":{"x":{"field":"t","type":"quantitative","scale":{"domain":[1859,2020],"nice":false,"zero":false},"axis":{"orient":"top","values":[1860,1865,1870,1875,1880,1885,1890,1895,1900,1905,1910,1915,1920,1925,1930,1935,1940,1945,1950,1955,1960,1965,1970,1975,1980,1985,1990,1995,2000,2005,2010,2015,2020],"labels":false,"tickSize":2,"title":["LONGITUDE : 0.5W(-0.5) to 0.5W","LATITUDE : 80N to 90N","DEPTH (m) : 5","CALENDAR: 360_DAY"],"titleAnchor":"start","titleAlign":"left","titleFontSize":3.6,"titleLineHeight":4,"titlePadding":15}},
"y":{"field":"v","type":"quantitative","scale":{"domain":[-0.4,0.51],"nice":false,"zero":false},"axis":{"orient":"right","values":[-0.4,-0.3,-0.2,-0.1,0,0.1,0.2,0.3,0.4,0.5],"labels":false,"tickSize":3,"title":null}}}},
{"data":{"name":"d"},"transform":[{"filter":"datum.p==1 && datum.m=='k'"}],"mark":{"type":"line","opacity":0,"clip":true},
"encoding":{"x":{"field":"t","type":"quantitative","scale":{"domain":[1859,2020],"nice":false,"zero":false},"axis":{"orient":"bottom","values":[1860,1865,1870,1875,1880,1885,1890,1895,1900,1905,1910,1915,1920,1925,1930,1935,1940,1945,1950,1955,1960,1965,1970,1975,1980,1985,1990,1995,2000,2005,2010,2015,2020],"labels":false,"tickSize":2,"title":null}},
"y":{"field":"v","type":"quantitative","scale":{"domain":[-0.4,0.51],"nice":false,"zero":false},"axis":{"orient":"left","values":[-0.3,-0.1,0.1,0.3,0.5],"labels":false,"tickSize":2,"title":null}}}},
{"data":{"name":"d"},"transform":[{"filter":"datum.p==1 && datum.m=='k'"}],"mark":{"type":"line","opacity":0,"clip":true},
"encoding":{"x":{"field":"t","type":"quantitative","scale":{"domain":[1859,2020],"nice":false,"zero":false},"axis":{"orient":"top","labels":false,"ticks":false,"title":["FERRET Ver. 6.1","NOAA/PMEL TMAP","Oct 23 2012 15:26:07"],"titleX":160,"titleAlign":"center","titleFontSize":2.8,"titleLineHeight":2.8,"titlePadding":31}},
"y":{"field":"v","type":"quantitative","scale":{"domain":[-0.4,0.51],"nice":false,"zero":false},"axis":null}}},
{"data":{"name":"d"},"transform":[{"filter":"datum.p==1 && datum.m=='k'"}],"mark":{"type":"line","opacity":0,"clip":true},
"encoding":{"x":{"field":"t","type":"quantitative","scale":{"domain":[1859,2020],"nice":false,"zero":false},"axis":{"orient":"top","labels":false,"ticks":false,"title":"[23/10/12]/home/dqn/WORK/CMIP5/HadGEM2-ES/ANALYSIS/AMO/Salinity_NAT2.jnl","titleX":-30,"titleAlign":"left","titleFontSize":6.3,"titleColor":"#8a8a8a","titlePadding":3}},
"y":{"field":"v","type":"quantitative","scale":{"domain":[-0.4,0.51],"nice":false,"zero":false},"axis":null}}}
]},
{"width":163,"height":112,"resolve":{"axis":{"x":"independent","y":"independent"}},"layer":[
{"data":{"name":"d"},"transform":[{"filter":"datum.p==2 && datum.m!='k'"}],"mark":{"type":"line","stroke":"#ff7a7a","strokeWidth":0.7,"opacity":0.7,"clip":true},
"encoding":{"x":{"field":"t","type":"quantitative","scale":{"domain":[1859,2020],"nice":false,"zero":false},"axis":{"orient":"bottom","values":[1900,1950,2000],"format":"d","tickSize":4,"labelFontSize":7,"labelPadding":2,"title":"Arctic Salinity K=10","titleFont":"Liberation Mono","titleFontSize":9,"titleColor":"#a0a0a0","titlePadding":6}},
"y":{"field":"v","type":"quantitative","scale":{"domain":[-0.253,0.253],"nice":false,"zero":false},"axis":{"orient":"left","values":[-0.2,-0.1,0,0.1,0.2],"format":".2f","tickSize":4,"labelFontSize":6.5,"labelPadding":2,"title":null}},"detail":{"field":"m"}}},
{"data":{"name":"d"},"transform":[{"filter":"datum.p==2 && datum.m=='k'"}],"mark":{"type":"line","stroke":"#000","strokeWidth":2,"clip":true},
"encoding":{"x":{"field":"t","type":"quantitative","scale":{"domain":[1859,2020],"nice":false,"zero":false},"axis":{"orient":"top","values":[1860,1865,1870,1875,1880,1885,1890,1895,1900,1905,1910,1915,1920,1925,1930,1935,1940,1945,1950,1955,1960,1965,1970,1975,1980,1985,1990,1995,2000,2005,2010,2015,2020],"labels":false,"tickSize":2,"title":["LONGITUDE : 0.5W(-0.5) to 0.5W","LATITUDE : 80N to 90N","DEPTH (m) : 95","CALENDAR: 360_DAY"],"titleAnchor":"start","titleAlign":"left","titleFontSize":3.6,"titleLineHeight":4,"titlePadding":15}},
"y":{"field":"v","type":"quantitative","scale":{"domain":[-0.253,0.253],"nice":false,"zero":false},"axis":{"orient":"right","values":[-0.25,-0.2,-0.15,-0.1,-0.05,0,0.05,0.1,0.15,0.2,0.25],"labels":false,"tickSize":3,"title":null}}}},
{"data":{"name":"d"},"transform":[{"filter":"datum.p==2 && datum.m=='k'"}],"mark":{"type":"line","opacity":0,"clip":true},
"encoding":{"x":{"field":"t","type":"quantitative","scale":{"domain":[1859,2020],"nice":false,"zero":false},"axis":{"orient":"bottom","values":[1860,1865,1870,1875,1880,1885,1890,1895,1900,1905,1910,1915,1920,1925,1930,1935,1940,1945,1950,1955,1960,1965,1970,1975,1980,1985,1990,1995,2000,2005,2010,2015,2020],"labels":false,"tickSize":2,"title":null}},
"y":{"field":"v","type":"quantitative","scale":{"domain":[-0.253,0.253],"nice":false,"zero":false},"axis":{"orient":"left","values":[-0.25,-0.15,-0.05,0.05,0.15,0.25],"labels":false,"tickSize":2,"title":null}}}},
{"data":{"name":"d"},"transform":[{"filter":"datum.p==2 && datum.m=='k'"}],"mark":{"type":"line","opacity":0,"clip":true},
"encoding":{"x":{"field":"t","type":"quantitative","scale":{"domain":[1859,2020],"nice":false,"zero":false},"axis":{"orient":"top","labels":false,"ticks":false,"title":["FERRET Ver. 6.1","NOAA/PMEL TMAP","Oct 23 2012 15:26:27"],"titleX":160,"titleAlign":"center","titleFontSize":2.8,"titleLineHeight":2.8,"titlePadding":31}},
"y":{"field":"v","type":"quantitative","scale":{"domain":[-0.253,0.253],"nice":false,"zero":false},"axis":null}}}
]},
{"width":163,"height":112,"resolve":{"axis":{"x":"independent","y":"independent"}},"layer":[
{"data":{"name":"d"},"transform":[{"filter":"datum.p==3 && datum.m!='k'"}],"mark":{"type":"line","stroke":"#ff7a7a","strokeWidth":0.7,"opacity":0.7,"clip":true},
"encoding":{"x":{"field":"t","type":"quantitative","scale":{"domain":[1859,2020],"nice":false,"zero":false},"axis":{"orient":"bottom","values":[1900,1950,2000],"format":"d","tickSize":4,"labelFontSize":7,"labelPadding":2,"title":"Arctic Salinity K=15","titleFont":"Liberation Mono","titleFontSize":9,"titleColor":"#a0a0a0","titlePadding":6}},
"y":{"field":"v","type":"quantitative","scale":{"domain":[-0.101,0.101],"nice":false,"zero":false},"axis":{"orient":"left","values":[-0.08,-0.04,0,0.04,0.08],"format":".2f","tickSize":4,"labelFontSize":6.5,"labelPadding":2,"title":null}},"detail":{"field":"m"}}},
{"data":{"name":"d"},"transform":[{"filter":"datum.p==3 && datum.m=='k'"}],"mark":{"type":"line","stroke":"#000","strokeWidth":2,"clip":true},
"encoding":{"x":{"field":"t","type":"quantitative","scale":{"domain":[1859,2020],"nice":false,"zero":false},"axis":{"orient":"top","values":[1860,1865,1870,1875,1880,1885,1890,1895,1900,1905,1910,1915,1920,1925,1930,1935,1940,1945,1950,1955,1960,1965,1970,1975,1980,1985,1990,1995,2000,2005,2010,2015,2020],"labels":false,"tickSize":2,"title":["LONGITUDE : 0.5W(-0.5) to 0.5W","LATITUDE : 80N to 90N","DEPTH (m) : 148.5","CALENDAR: 360_DAY"],"titleAnchor":"start","titleAlign":"left","titleFontSize":3.6,"titleLineHeight":4,"titlePadding":15}},
"y":{"field":"v","type":"quantitative","scale":{"domain":[-0.101,0.101],"nice":false,"zero":false},"axis":{"orient":"right","values":[-0.1,-0.08,-0.06,-0.04,-0.02,0,0.02,0.04,0.06,0.08,0.1],"labels":false,"tickSize":3,"title":null}}}},
{"data":{"name":"d"},"transform":[{"filter":"datum.p==3 && datum.m=='k'"}],"mark":{"type":"line","opacity":0,"clip":true},
"encoding":{"x":{"field":"t","type":"quantitative","scale":{"domain":[1859,2020],"nice":false,"zero":false},"axis":{"orient":"bottom","values":[1860,1865,1870,1875,1880,1885,1890,1895,1900,1905,1910,1915,1920,1925,1930,1935,1940,1945,1950,1955,1960,1965,1970,1975,1980,1985,1990,1995,2000,2005,2010,2015,2020],"labels":false,"tickSize":2,"title":null}},
"y":{"field":"v","type":"quantitative","scale":{"domain":[-0.101,0.101],"nice":false,"zero":false},"axis":{"orient":"left","values":[-0.1,-0.06,-0.02,0.02,0.06,0.1],"labels":false,"tickSize":2,"title":null}}}},
{"data":{"name":"d"},"transform":[{"filter":"datum.p==3 && datum.m=='k'"}],"mark":{"type":"line","opacity":0,"clip":true},
"encoding":{"x":{"field":"t","type":"quantitative","scale":{"domain":[1859,2020],"nice":false,"zero":false},"axis":{"orient":"top","labels":false,"ticks":false,"title":["FERRET Ver. 6.1","NOAA/PMEL TMAP","Oct 23 2012 15:27:01"],"titleX":160,"titleAlign":"center","titleFontSize":2.8,"titleLineHeight":2.8,"titlePadding":33}},
"y":{"field":"v","type":"quantitative","scale":{"domain":[-0.101,0.101],"nice":false,"zero":false},"axis":null}}}
]},
{"width":163,"height":112,"resolve":{"axis":{"x":"independent","y":"independent"}},"layer":[
{"data":{"name":"d"},"transform":[{"filter":"datum.p==4 && datum.m!='k'"}],"mark":{"type":"line","stroke":"#ff7a7a","strokeWidth":0.7,"opacity":0.7,"clip":true,"interpolate":"monotone"},
"encoding":{"x":{"field":"t","type":"quantitative","scale":{"domain":[1859,2020],"nice":false,"zero":false},"axis":{"orient":"bottom","values":[1900,1950,2000],"format":"d","tickSize":4,"labelFontSize":7,"labelPadding":2,"title":"Arctic Salinity K=28","titleFont":"Liberation Mono","titleFontSize":9,"titleColor":"#a0a0a0","titlePadding":6}},
"y":{"field":"v","type":"quantitative","scale":{"domain":[-0.0071,0.0081],"nice":false,"zero":false},"axis":{"orient":"left","values":[-0.006,-0.004,-0.002,0,0.002,0.004,0.006,0.008],"labelExpr":"datum.value < 0 ? replace(format(datum.value, '.3f'), '-0.', '-.') : format(datum.value, '.3f')","tickSize":4,"labelFontSize":6.5,"labelPadding":2,"title":null}},"detail":{"field":"m"}}},
{"data":{"name":"d"},"transform":[{"filter":"datum.p==4 && datum.m=='k'"}],"mark":{"type":"line","stroke":"#000","strokeWidth":2,"clip":true,"interpolate":"monotone"},
"encoding":{"x":{"field":"t","type":"quantitative","scale":{"domain":[1859,2020],"nice":false,"zero":false},"axis":{"orient":"top","values":[1860,1865,1870,1875,1880,1885,1890,1895,1900,1905,1910,1915,1920,1925,1930,1935,1940,1945,1950,1955,1960,1965,1970,1975,1980,1985,1990,1995,2000,2005,2010,2015,2020],"labels":false,"tickSize":2,"title":["LONGITUDE : 0.5W(-0.5) to 0.5W","LATITUDE : 80N to 90N","DEPTH (m) : 1460","CALENDAR: 360_DAY"],"titleAnchor":"start","titleAlign":"left","titleFontSize":3.6,"titleLineHeight":4,"titlePadding":15}},
"y":{"field":"v","type":"quantitative","scale":{"domain":[-0.0071,0.0081],"nice":false,"zero":false},"axis":{"orient":"right","values":[-0.007,-0.006,-0.005,-0.004,-0.003,-0.002,-0.001,0,0.001,0.002,0.003,0.004,0.005,0.006,0.007,0.008],"labels":false,"tickSize":3,"title":null}}}},
{"data":{"name":"d"},"transform":[{"filter":"datum.p==4 && datum.m=='k'"}],"mark":{"type":"line","opacity":0,"clip":true},
"encoding":{"x":{"field":"t","type":"quantitative","scale":{"domain":[1859,2020],"nice":false,"zero":false},"axis":{"orient":"bottom","values":[1860,1865,1870,1875,1880,1885,1890,1895,1900,1905,1910,1915,1920,1925,1930,1935,1940,1945,1950,1955,1960,1965,1970,1975,1980,1985,1990,1995,2000,2005,2010,2015,2020],"labels":false,"tickSize":2,"title":null}},
"y":{"field":"v","type":"quantitative","scale":{"domain":[-0.0071,0.0081],"nice":false,"zero":false},"axis":{"orient":"left","values":[-0.007,-0.005,-0.003,-0.001,0.001,0.003,0.005,0.007],"labels":false,"tickSize":2,"title":null}}}},
{"data":{"name":"d"},"transform":[{"filter":"datum.p==4 && datum.m=='k'"}],"mark":{"type":"line","opacity":0,"clip":true},
"encoding":{"x":{"field":"t","type":"quantitative","scale":{"domain":[1859,2020],"nice":false,"zero":false},"axis":{"orient":"top","labels":false,"ticks":false,"title":["FERRET Ver. 6.1","NOAA/PMEL TMAP","Oct 23 2012 15:27:34"],"titleX":160,"titleAlign":"center","titleFontSize":2.8,"titleLineHeight":2.8,"titlePadding":33}},
"y":{"field":"v","type":"quantitative","scale":{"domain":[-0.0071,0.0081],"nice":false,"zero":false},"axis":null}}}
]}
]
}
